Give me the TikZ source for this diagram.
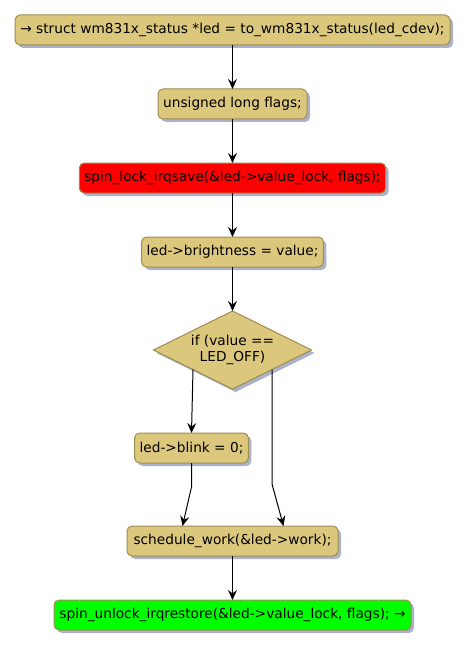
\documentclass[tikz,border=0pt]{standalone}
\usepackage{fontspec}
\setmainfont{DejaVu Sans}
\usepackage{xcolor}
\usepackage{tikz}
\usetikzlibrary{positioning,arrows.meta,shapes.geometric,calc,shadows}

\definecolor{actfill}{RGB}{220,200,125}
\definecolor{actline}{RGB}{160,140,80}
\definecolor{shadowc}{RGB}{150,160,190}
\definecolor{lockred}{RGB}{255,0,0}
\definecolor{unlockgreen}{RGB}{0,255,0}

\begin{document}
\begin{tikzpicture}[
    font=\fontsize{13.7}{16}\selectfont,
    action/.style={rectangle, draw=actline, line width=1pt, outer sep=0pt, rounded corners=5pt, minimum height=30pt, inner xsep=5pt, align=center, fill=actfill, text=black, drop shadow={shadow xshift=3pt, shadow yshift=-3pt, fill=shadowc, opacity=0.8}},
    lockbox/.style={action, fill=lockred},
    unlockbox/.style={action, fill=unlockgreen},
    decide/.style={diamond, aspect=2, draw=actline, line width=1pt, outer sep=0pt, minimum width=158pt, minimum height=78pt, inner sep=-2pt, align=center, fill=actfill, text=black, drop shadow={shadow xshift=3pt, shadow yshift=-3pt, fill=shadowc, opacity=0.8}},
    arr/.style={-{Stealth[length=10pt, width=9pt, inset=3.5pt]}, line width=1pt, black},
    node distance=44pt
]
\useasboundingbox (0,0) rectangle (467pt,-650pt);

% ============================================================
% ACTIONS
% ============================================================
\node[action, minimum width=435pt] (getled) at (232.5pt,-30pt) {→ struct wm831x\_status *led = to\_wm831x\_status(led\_cdev);};
\node[action, minimum width=149pt, below=of getled] (flags) {unsigned long flags;};
\node[lockbox, minimum width=304pt, below=of flags] (lock) {spin\_lock\_irqsave(\&led->value\_lock, flags);};
\node[action, minimum width=181pt, below=of lock] (bright) {led->brightness = value;};
\node[decide, below=of bright] (ifoff) {if (value ==\\LED\_OFF)};
\node[action, minimum width=113pt, below=44pt of ifoff, xshift=-41pt] (blink) {led->blink = 0;};
\node[action, minimum width=211pt, below=63pt of blink, xshift=41pt] (sched) {schedule\_work(\&led->work);};
\node[unlockbox, minimum width=357pt, below=of sched] (unlock) {spin\_unlock\_irqrestore(\&led->value\_lock, flags); →};

% branch points
\coordinate (ifL) at ($(ifoff.west)!0.5!(ifoff.south)$);
\coordinate (ifR) at ($(ifoff.east)!0.5!(ifoff.south)$);
\coordinate (schedL) at ($(sched.north)+(-50pt,0)$);
\coordinate (schedR) at ($(sched.north)+(51pt,0)$);
\coordinate (bendL) at ($(blink.south |- sched.north)+(0,39pt)$);
\coordinate (bendR) at ($(ifR |- sched.north)+(0,42pt)$);

% ============================================================
% CONNECTORS
% ============================================================
\draw[arr] (getled) -- (flags);
\draw[arr] (flags) -- (lock);
\draw[arr] (lock) -- (bright);
\draw[arr] (bright) -- (ifoff);
\draw[arr] (ifL) -- (blink.north);
\draw[arr] (blink.south) -- (bendL) -- (schedL);
\draw[arr] (ifR) -- (bendR) -- (schedR);
\draw[arr] (sched) -- (unlock);

\end{tikzpicture}
\end{document}
